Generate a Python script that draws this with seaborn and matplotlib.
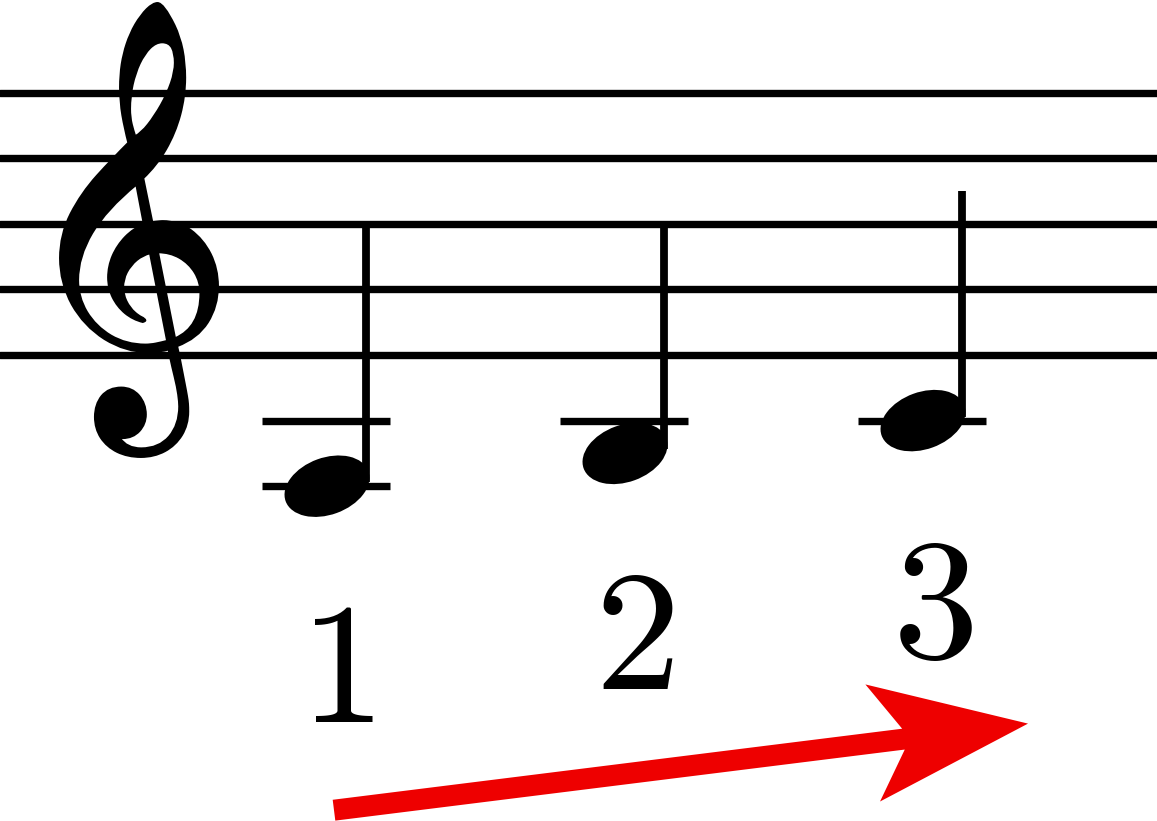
import matplotlib
matplotlib.use("Agg")
import numpy as np
import pandas as pd
import seaborn as sns
import matplotlib.pyplot as plt
from matplotlib.patches import Ellipse, Polygon, PathPatch
from matplotlib.textpath import TextPath
from matplotlib.font_manager import FontProperties
from matplotlib import font_manager, ft2font
from matplotlib.transforms import Affine2D

# ---- data ----
note_labels = ["1", "2", "3"]
note_steps = [-4, -3, -2]          # staff steps above bottom line: A3, B3, C4
stem_top_steps = [4, 4, 5]         # where each stem ends
staff_line_steps = [0, 2, 4, 6, 8]
ledger_steps = [[-2, -4], [-2], [-2]]
clef_char = "\U0001D11E"

# ---- layout (pixels) ----
W, H = 1157, 821
BOTTOM = 355.0
HALF = 32.8
X0, DX = 327.0, 298.0

def ypix(step):
    return BOTTOM - step * HALF


def find_music_font():
    files = sorted(set(font_manager.findSystemFonts() +
                       [fe.fname for fe in font_manager.fontManager.ttflist]))
    pref = [f for f in files if "NotoMusic" in f] + [f for f in files if "FreeSerif" in f] + files
    for f in pref:
        try:
            if 0x1D11E in ft2font.FT2Font(f).get_charmap():
                return f
        except Exception:
            pass
    return None

sns.set_theme(style="white")
plt.rcParams["mathtext.fontset"] = "cm"

fig = plt.figure(figsize=(W / 100, H / 100), dpi=100)
ax = fig.add_axes([0, 0, 1, 1])

# staff lines via seaborn
staff_df = pd.DataFrame(
    [{"x": x, "y": ypix(s), "line": i} for i, s in enumerate(staff_line_steps) for x in (0, W)]
)
sns.lineplot(data=staff_df, x="x", y="y", units="line", estimator=None,
             color="black", linewidth=5.3, ax=ax, legend=False, sort=False)
ax.set_xlim(0, W)
ax.set_ylim(H, 0)
ax.set_axis_off()

# clef glyph fitted to its box
mf = find_music_font()
fp = FontProperties(fname=mf) if mf else FontProperties(family="DejaVu Sans")
tp = TextPath((0, 0), clef_char, size=100, prop=fp)
ext = tp.get_extents()
cx0, cx1, cy0, cy1 = 60, 218, 3, 457
sx = (cx1 - cx0) / ext.width
sy = (cy1 - cy0) / ext.height
tr = Affine2D().translate(-ext.x0, -ext.y1).scale(sx, -sy).translate(cx0, cy0)
ax.add_patch(PathPatch(tr.transform_path(tp), facecolor="black", edgecolor="black",
                       linewidth=1.4))

# notes
for i, (lab, st, top) in enumerate(zip(note_labels, note_steps, stem_top_steps)):
    xc = X0 + i * DX
    yc = ypix(st)
    for ls in ledger_steps[i]:
        ax.plot([xc - 65, xc + 63], [ypix(ls), ypix(ls)], color="black",
                linewidth=5.3, solid_capstyle="butt")
    ax.add_patch(Ellipse((xc, yc), 88, 57, angle=-20, facecolor="black", edgecolor="none"))
    ax.plot([xc + 39, xc + 39], [ypix(top), yc - 4], color="black",
            linewidth=5.6, solid_capstyle="butt")
    ax.text(xc + 9, yc + 236, f"${lab}$", fontsize=124, ha="center", va="baseline",
            color="black")

# red arrow under the numbers
tail = np.array([X0 + 7, ypix(note_steps[0]) + 324])
tip = np.array([X0 + 2 * DX + 105, ypix(note_steps[-1]) + 303])
d = (tip - tail) / np.linalg.norm(tip - tail)
n = np.array([-d[1], d[0]])
hw, head_w, notch, head_back = 10.5, 59, 125.5, 156.5
pts = [
    tail - n * hw,
    tip - d * notch - n * hw,
    tip - d * head_back - n * head_w,
    tip,
    tip - d * head_back + n * head_w,
    tip - d * notch + n * hw,
    tail + n * hw,
]
ax.add_patch(Polygon(pts, closed=True, facecolor="#EE0000", edgecolor="none"))

fig.savefig("out.png", dpi=100, facecolor="white")
